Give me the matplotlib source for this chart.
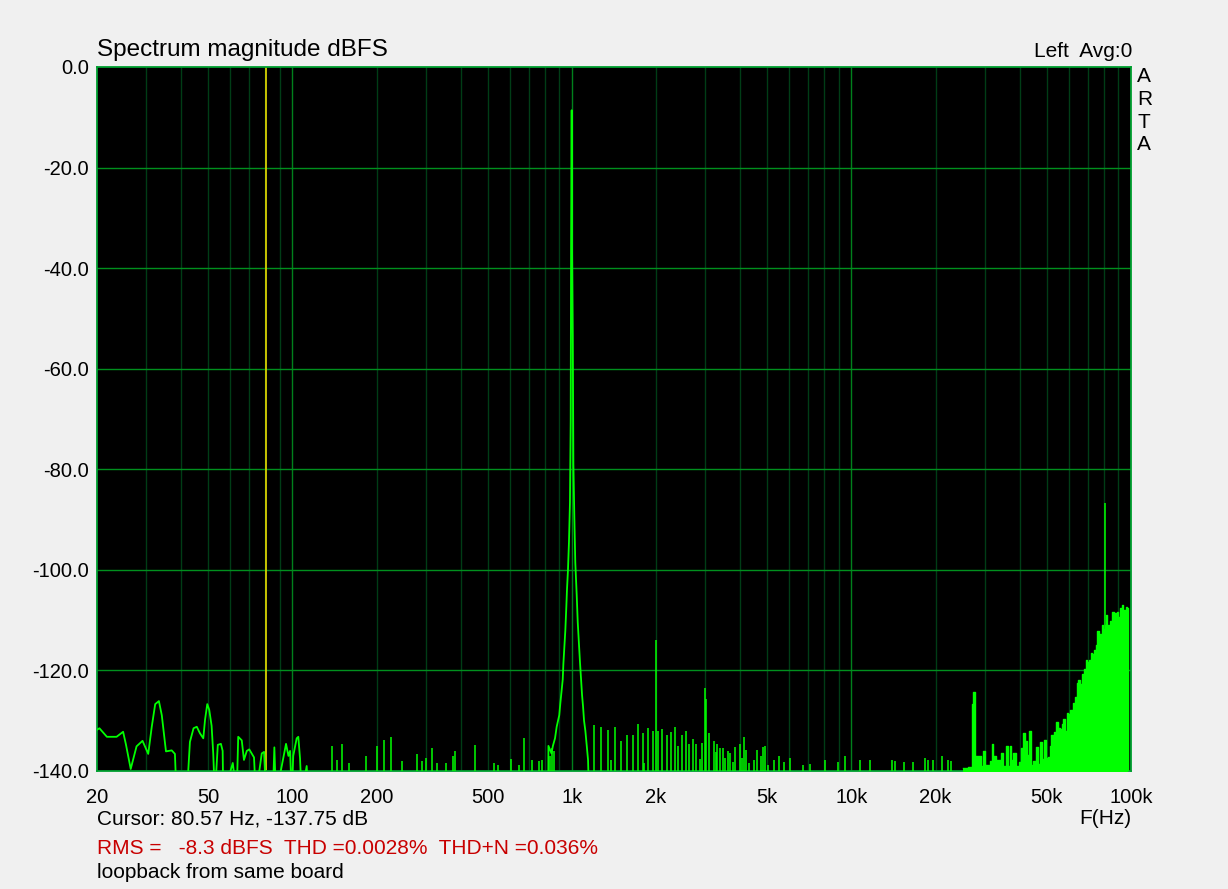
"""
ARTA style spectrum - loopback from same board
"""
import numpy as np
import matplotlib
matplotlib.use("Agg")
import matplotlib.pyplot as plt

plt.rcParams["font.family"] = ["Liberation Sans", "DejaVu Sans"]

# ---- data read from the screen capture ----
# low frequency part of the trace (Hz, dBFS), values below -140 are clipped
low_freq = [20.0, 20.4, 21.7, 23.5, 24.8, 25.4, 26.4, 27.7, 29.1, 30.5, 31.4, 32.3,
            33.3, 34.1, 35.3, 37.0, 38.0, 38.5, 41.9, 43.0, 44.3, 45.5, 46.7, 48.0,
            48.7, 49.6, 50.4, 51.4, 52.1, 52.8, 54.1, 55.5, 56.3, 56.6, 61.2, 63.2,
            64.0, 65.9, 67.1, 68.7, 70.1, 72.9, 74.0, 77.7, 79.2, 80.5, 85.1, 86.2,
            87.3, 94.9, 96.8, 98.1, 99.5, 100.7, 103.6, 105.0, 106.5, 107.9, 112.5, 114.0]
low_db = [-131.8, -131.5, -133.2, -133.2, -132.2, -134.8, -139.6, -135.1, -134.0, -136.6,
          -131.2, -126.7, -126.1, -128.9, -136.1, -135.9, -136.6, -145, -145, -134.2,
          -131.5, -131.2, -132.5, -133.5, -129.8, -126.7, -127.8, -131.0, -136.5, -145,
          -134.8, -134.6, -136.0, -145, -138.4, -145, -133.2, -133.9, -137.8, -136.0,
          -135.7, -137.3, -145, -136.5, -136.2, -145, -145, -135.3, -145, -134.6,
          -137.0, -136.0, -145, -137.0, -133.5, -133.2, -137.5, -145, -139.0, -145]

# fundamental at 1 kHz and its skirt
peak_freq = [823, 824, 845, 855, 870, 882, 901, 909, 919, 927, 932, 939, 947, 955, 960,
             968, 976, 984, 990, 993, 998, 1001, 1007, 1012, 1020, 1028, 1040, 1049,
             1060, 1069, 1078, 1087, 1096, 1105, 1117, 1130, 1142, 1151]
peak_db = [-145, -135.0, -136.5, -135.0, -133.5, -131.2, -128.9, -126.5, -123.9, -121.8,
           -118.7, -115.6, -112.1, -107.3, -104.0, -100.0, -94.4, -86.6, -70.2, -36.0,
           -8.6, -36.0, -53.3, -78.9, -89.4, -98.5, -104.9, -110.4, -114.9, -118.5,
           -121.7, -124.9, -127.2, -130.0, -132.0, -135.0, -137.8, -145]

# isolated bins (harmonics, spurs and noise spikes)
spike_freq = [139, 144, 150, 159, 184, 200, 212, 225, 246, 279, 290, 301, 315, 330, 354,
              377, 383, 450, 527, 545, 604, 649, 676, 718, 765, 784, 835, 850, 860,
              1203, 1275, 1350, 1385, 1430, 1502, 1579, 1659, 1729, 1802, 1817, 1878,
              1956, 2000, 2038, 2106, 2184, 2258, 2338, 2404, 2484, 2562, 2632, 2720,
              2788, 2863, 2930, 3000, 3025, 3102, 3233, 3286, 3313, 3396, 3482, 3540,
              3628, 3688, 3780, 3844, 4006, 4053, 4140, 4209, 4313, 4495, 4607, 4762,
              4836, 4920, 5020, 5300, 5522, 5750, 6048, 6730, 7130, 8070, 8980, 9514,
              10770, 11690, 14010, 14360, 15390, 16660, 18390, 18850, 19620, 21150,
              22180, 22700, 80900]
spike_db = [-135.1, -137.8, -134.6, -138.4, -137.0, -135.1, -133.8, -133.3, -138.1,
            -136.6, -138.0, -137.5, -135.5, -138.5, -138.4, -137.0, -136.1, -134.8,
            -138.4, -138.8, -137.6, -138.8, -133.5, -137.8, -138.1, -137.8, -137.0,
            -135.5, -136.0,
            -130.8, -131.2, -131.8, -137.8, -131.2, -134.1, -132.9, -132.8, -130.6,
            -132.4, -138.4, -131.4, -132.0, -113.9, -132.0, -131.6, -132.8, -132.2,
            -131.2, -135.0, -132.9, -132.1, -134.6, -133.6, -134.6, -137.6, -134.5,
            -123.4, -125.6, -132.4, -134.1, -136.2, -134.6, -135.5, -135.5, -137.4,
            -136.0, -136.4, -138.2, -135.3, -134.6, -137.4, -133.3, -135.8, -138.4,
            -137.9, -135.8, -137.0, -135.3, -135.0, -138.8, -137.9, -137.0, -138.2,
            -137.4, -138.8, -138.6, -137.9, -138.3, -137.1, -137.8, -137.9, -137.9,
            -138.1, -138.3, -138.2, -137.4, -137.8, -137.8, -137.0, -137.8, -138.1,
            -86.8]

# high frequency noise envelope (filled from the floor)
hf_freq = [25100, 26200, 27050, 27300, 27660, 28650, 29100, 29500, 30000, 31300, 31900,
           32200, 32900, 34350, 34900, 35800, 36300, 36900, 37200, 37900, 38700, 39800,
           40500, 41200, 41700, 42600, 43100, 43800, 44700, 45800, 46600, 47100, 47900,
           48800, 49600, 50600, 51300, 51900, 52700, 53100, 54000, 54900, 55700, 56500,
           57300, 58000, 58900, 59700, 60600, 61900, 63000, 63900, 64800, 65700, 66600,
           67900, 68800, 69800, 70900, 71800, 72700, 73500, 74900, 75800, 76600, 77500,
           78700, 79600, 80500, 81400, 82300, 83200, 84100, 85500, 86900, 87700, 88900,
           90100, 91300, 92600, 93400, 94400, 95700, 96500, 97300, 97900]
hf_db = [-139.5, -139.3, -126.7, -124.3, -137.0, -137.0, -139.0, -136.0, -138.8, -138.0,
         -134.6, -137.0, -137.8, -136.4, -139.0, -135.0, -139.0, -135.0, -137.8, -136.4,
         -139.0, -138.2, -135.5, -132.4, -134.0, -136.8, -132.0, -138.8, -138.0, -135.2,
         -138.6, -134.2, -137.6, -133.8, -137.4, -137.2, -135.0, -132.8, -135.5, -132.3,
         -130.2, -131.5, -131.6, -130.7, -129.7, -132.0, -128.5, -128.7, -127.9, -126.4,
         -125.2, -122.5, -121.9, -122.7, -120.7, -119.8, -117.9, -118.3, -117.9, -116.6,
         -116.7, -115.9, -114.9, -112.1, -114.1, -112.7, -111.0, -111.7, -111.0, -109.0,
         -111.0, -111.3, -110.1, -108.3, -110.0, -108.5, -108.3, -109.4, -107.6, -107.0,
         -109.2, -107.9, -107.3, -107.6, -107.9, -145]

x_ticks = [20, 50, 100, 200, 500, 1000, 2000, 5000, 10000, 20000, 50000, 100000]
x_labels = ["20", "50", "100", "200", "500", "1k", "2k", "5k", "10k", "20k", "50k", "100k"]
y_ticks = [0, -20, -40, -60, -80, -100, -120, -140]

cursor_f = 80.57
GREEN = "#00ff00"

fig = plt.figure(figsize=(12.28, 8.89), dpi=100, facecolor="#f0f0f0")
ax = fig.add_axes([97 / 1228, 1 - 771 / 889, (1131 - 97) / 1228, (771 - 67) / 889])
ax.set_facecolor("black")
ax.set_xscale("log")
ax.set_xlim(20, 100000)
ax.set_ylim(-140, 0)

# grid: minor lines dark, decades and every 20 dB brighter
for dec in [10, 100, 1000, 10000]:
    for m in range(1, 10):
        f = dec * m
        if f <= 20 or f >= 100000:
            continue
        col = "#00801c" if m == 1 else "#003d16"
        ax.axvline(f, color=col, lw=1.0, zorder=1)
for yv in y_ticks[1:-1]:
    ax.axhline(yv, color="#00901e", lw=1.0, zorder=1)

# cursor
ax.axvline(cursor_f, color="#d8d000", lw=1.3, zorder=2)

# spectrum
ax.plot(low_freq, low_db, color=GREEN, lw=1.3, zorder=3)
ax.plot(peak_freq, peak_db, color=GREEN, lw=1.3, zorder=3)
ax.vlines(spike_freq, -145, spike_db, color=GREEN, lw=1.1, zorder=3)
ax.fill_between(hf_freq, -145, hf_db, step="post", color=GREEN, lw=0, zorder=3)
ax.step(hf_freq, hf_db, where="post", color=GREEN, lw=1.0, zorder=3)

for s in ax.spines.values():
    s.set_color("#00a030")
    s.set_linewidth(1.3)

ax.set_xticks(x_ticks)
ax.set_xticklabels(x_labels)
ax.xaxis.set_minor_locator(matplotlib.ticker.NullLocator())
ax.set_yticks(y_ticks)
ax.set_yticklabels([f"{v:.1f}" for v in y_ticks])
ax.tick_params(axis="both", length=0, labelsize=14.5, colors="black")
ax.tick_params(axis="x", pad=12)
ax.tick_params(axis="y", pad=6)

# texts around the plot
fig.text(97 / 1228, 1 - 56 / 889, "Spectrum magnitude dBFS", fontsize=17.5, va="baseline")
fig.text(1132 / 1228, 1 - 57 / 889, "Left  Avg:0", fontsize=15, ha="right", va="baseline")
for i, ch in enumerate("ARTA"):
    fig.text(1137 / 1228, 1 - (77 + 22.5 * i) / 889, ch, fontsize=15, va="center")
fig.text(1131 / 1228, 1 - 819 / 889, "F(Hz)", fontsize=15, ha="right", va="center")
fig.text(97 / 1228, 1 - 819 / 889, "Cursor: 80.57 Hz, -137.75 dB", fontsize=15, va="center")
fig.text(97 / 1228, 1 - 848 / 889, "RMS =   -8.3 dBFS  THD =0.0028%  THD+N =0.036%",
         fontsize=15, va="center", color="#c80000")
fig.text(97 / 1228, 1 - 873 / 889, "loopback from same board", fontsize=15, va="center")

fig.savefig("out.png", dpi=100, facecolor=fig.get_facecolor())
plt.close(fig)
